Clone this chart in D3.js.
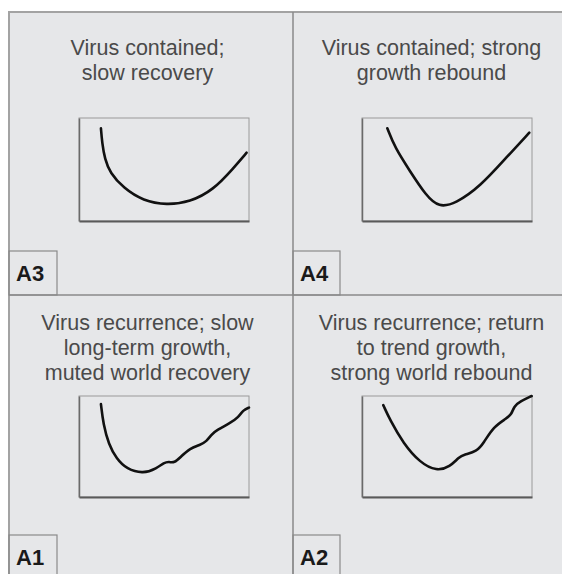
<!DOCTYPE html>
<html>
<head>
<meta charset="utf-8">
<script src="https://cdn.jsdelivr.net/npm/d3@7"></script>
<style>
  body { margin: 0; background: #fff; }
  svg { display: block; }
</style>
</head>
<body>
<div id="container"></div>
<script>
var w = 562;
var h = 574;

// scenario panels, in reading order (top-left, top-right, bottom-left, bottom-right)
var codes = ["A3", "A4", "A1", "A2"];
var titles = [
  ["Virus contained;", "slow recovery"],
  ["Virus contained; strong", "growth rebound"],
  ["Virus recurrence; slow", "long-term growth,", "muted world recovery"],
  ["Virus recurrence; return", "to trend growth,", "strong world rebound"]
];

// curves: [time, output], both on a 0-100 scale
var curveA3 = [[12.9, 90], [13.6, 76], [15.2, 60], [18.2, 47], [26.1, 32], [37.8, 19.5], [51.6, 15.5],
  [65.3, 18.5], [79, 30.1], [90.8, 51.2], [98.6, 66.3]];
var curveA4 = [[14.9, 90], [19.4, 71], [28.2, 48.5], [37.5, 25], [45.3, 13], [55.1, 17],
  [69.4, 33.3], [85.1, 62], [98.4, 85.7]];
var curveA1 = [[12.9, 92], [14.3, 72], [17.5, 52], [22, 38], [28.1, 27.5], [37.8, 23], [45.7, 28.4],
  [50, 34], [53, 35], [56, 33.5], [60, 40], [65.3, 48.2], [71.2, 51.5], [75, 55], [78, 62], [81, 66.3],
  [88.8, 73], [93.5, 78.5], [96.6, 86.1], [100, 88.5]];
var curveA2 = [[12.5, 91], [16.5, 76.2], [24.3, 53.1], [34.1, 34], [43.9, 25.5], [51.8, 30],
  [57, 39.5], [60, 42], [67.5, 45], [71.4, 53.1], [77.3, 69.6], [85.1, 77.9], [88, 82], [89.5, 90],
  [92.9, 94.4], [99.8, 100]];
var curves = [curveA3, curveA4, curveA1, curveA2];

var svg = d3.select("div#container").append("svg")
  .attr("width", w)
  .attr("height", h);

// grid frame
var x0 = 9, y0 = 12, midX = 293, midY = 295;
var colLeft = [x0, midX];
var rowBottom = [midY, h + 2];
var boxOffset = [70, 69];
var boxTop = [118, 396];
var boxBottom = [221, 497];
var titleBase = [55, 330];
var labelTop = [251, 535];

svg.append("rect")
  .attr("x", x0).attr("y", y0)
  .attr("width", w - x0 + 5).attr("height", h - y0 + 5)
  .attr("fill", "#e6e7e9")
  .attr("stroke", "#a3a3a3")
  .attr("stroke-width", 2);

svg.append("line")
  .attr("x1", midX).attr("x2", midX)
  .attr("y1", y0).attr("y2", h)
  .attr("stroke", "#8a8a8a").attr("stroke-width", 1.5);
svg.append("line")
  .attr("x1", x0).attr("x2", w)
  .attr("y1", midY).attr("y2", midY)
  .attr("stroke", "#8a8a8a").attr("stroke-width", 1.5);

codes.forEach(function(code, i) {
  var col = i % 2, row = Math.floor(i / 2);
  var left = colLeft[col];
  var g = svg.append("g").attr("class", "panel");

  // title
  var t = g.append("text")
    .attr("text-anchor", "middle")
    .attr("font-family", "Liberation Sans, Arial, sans-serif")
    .attr("font-size", 21.5)
    .attr("fill", "#4a4a4a");
  t.selectAll("tspan")
    .data(titles[i])
    .enter().append("tspan")
    .attr("x", left + 138.5)
    .attr("y", function(d, k) { return titleBase[row] + k * 25; })
    .text(function(d) { return d; });

  // small chart
  var bx = left + boxOffset[col];
  var x = d3.scaleLinear().domain([0, 100]).range([bx, bx + 170]);
  var y = d3.scaleLinear().domain([0, 100]).range([boxBottom[row], boxTop[row]]);

  g.append("rect")
    .attr("x", x(0)).attr("y", y(100))
    .attr("width", x(100) - x(0)).attr("height", y(0) - y(100))
    .attr("fill", "none")
    .attr("stroke", "#9a9a9a")
    .attr("stroke-width", 1);

  g.append("g")
    .attr("transform", "translate(0," + y(0) + ")")
    .call(d3.axisBottom(x).tickValues([]).tickSizeOuter(0))
    .select(".domain").attr("stroke", "#5a5a5a").attr("stroke-width", 2);
  g.append("g")
    .attr("transform", "translate(" + x(0) + ",0)")
    .call(d3.axisLeft(y).tickValues([]).tickSizeOuter(0))
    .select(".domain").attr("stroke", "#6a6a6a").attr("stroke-width", 1.5);

  var line = d3.line()
    .x(function(d) { return x(d[0]); })
    .y(function(d) { return y(d[1]); })
    .curve(d3.curveBasis);

  g.append("path")
    .datum(curves[i])
    .attr("d", line)
    .attr("fill", "none")
    .attr("stroke", "#111")
    .attr("stroke-width", 2.6)
    .attr("stroke-linecap", "round");

  // scenario code box
  var lt = labelTop[row];
  var lb = rowBottom[row];
  g.append("rect")
    .attr("x", left).attr("y", lt)
    .attr("width", 48 - col).attr("height", lb - lt)
    .attr("fill", "none")
    .attr("stroke", "#8a8a8a")
    .attr("stroke-width", 1.2);
  g.append("text")
    .attr("x", left + 7)
    .attr("y", lt + 30)
    .attr("font-family", "Liberation Sans, Arial, sans-serif")
    .attr("font-weight", "bold")
    .attr("font-size", 22)
    .attr("fill", "#1a1a1a")
    .text(code);
});
</script>
</body>
</html>
